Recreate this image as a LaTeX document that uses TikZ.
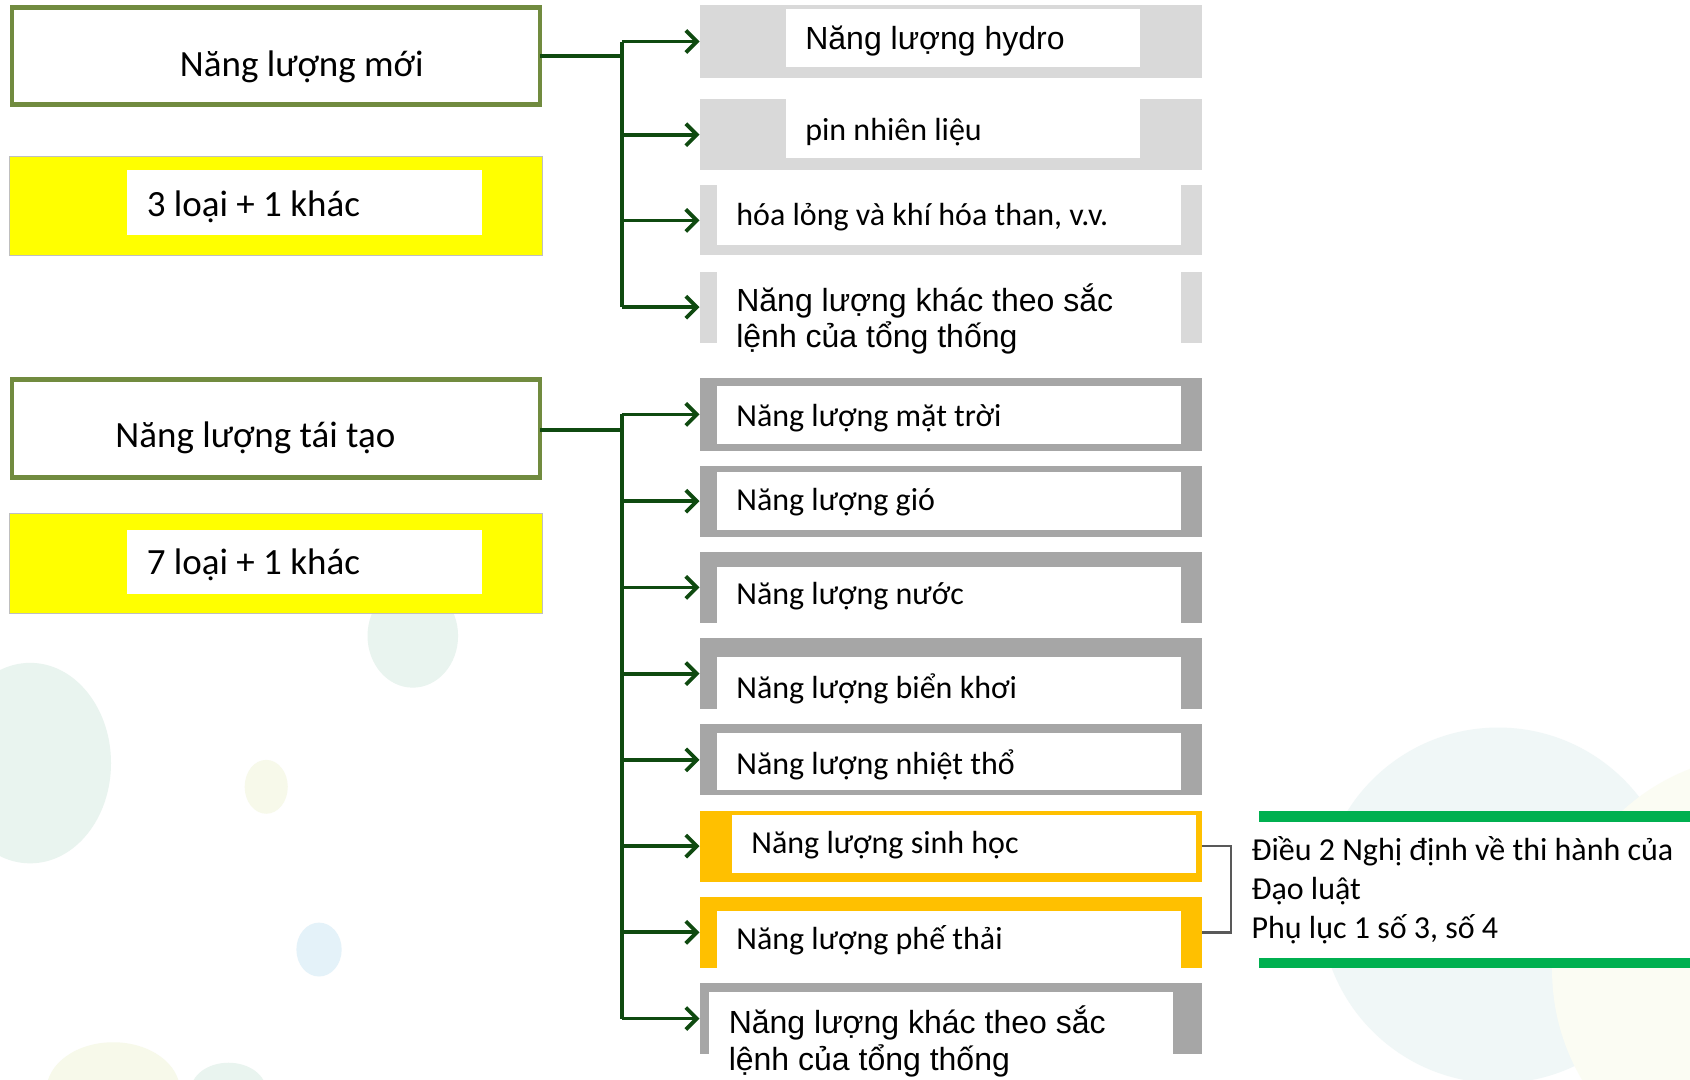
\documentclass[tikz,border=0pt]{standalone}
\usepackage{fontspec}
\setmainfont{Carlito}
\newfontfamily\arialf{Liberation Sans}
\usetikzlibrary{arrows.meta,fit}
\definecolor{boxgreen}{HTML}{718B3F}
\definecolor{arrowgreen}{HTML}{0F4A10}
\definecolor{lgray}{HTML}{D9D9D9}
\definecolor{dgray}{HTML}{A6A6A6}
\definecolor{orangebox}{HTML}{FFC000}
\definecolor{yellowbox}{HTML}{FFFF00}
\definecolor{lawgreen}{HTML}{00B050}
\definecolor{brkgray}{HTML}{595959}
\definecolor{bgA}{HTML}{E9F4EF}
\definecolor{bgB}{HTML}{F7F9EA}
\definecolor{bgC}{HTML}{E4F2F9}
\definecolor{bgD}{HTML}{F0F7F7}
\definecolor{bgE}{HTML}{FBFCF3}
\begin{document}
\begin{tikzpicture}[x=1.0778pt,y=-1.0778pt,
  rbox/.style={inner sep=0pt, outer sep=0pt},
  titlebox/.style={inner sep=0pt, outer sep=0pt, draw=boxgreen, line width=4.3pt, fill=white},
  ybox/.style={inner sep=0pt, outer sep=0pt, draw=black!25, line width=0.8pt, fill=yellowbox},
  cal/.style={font=\fontsize{32}{38.8}\selectfont, inner sep=0pt, anchor=base west},
  calbig/.style={font=\fontsize{37}{44}\selectfont, inner sep=0pt, anchor=base},
  ari/.style={font=\arialf\fontsize{32}{36.6}\selectfont, inner sep=0pt, align=left, anchor=base west},
  conn/.style={draw=arrowgreen, line width=3.8pt},
  arr/.style={conn, -{Straight Barb[length=11pt,width=22pt]}},
  brk/.style={draw=brkgray, line width=2.4pt}
]
\useasboundingbox (0,0) rectangle (1568,1002);
\fill[white] (0,0) rectangle (1568,1002);
% faint background decoration
\fill[bgA] (28,708) ellipse [x radius=75, y radius=93];
\fill[bgA] (383,590) ellipse [x radius=42, y radius=48];
\fill[bgB] (247,730) ellipse [x radius=20, y radius=25];
\fill[bgC] (296,881) ellipse [x radius=21, y radius=25];
\fill[bgB] (105,1012) ellipse [x radius=62, y radius=45];
\fill[bgA] (212,1012) ellipse [x radius=35, y radius=26];
\fill[bgD] (1390,840) circle [radius=165];
\fill[bgE] (1640,900) circle [radius=200];

% left column
\node[titlebox, fit={(11,7)(501,97)}] (nm) {};
\node[calbig] (nmt) at (280,71) {Năng lượng mới};
\node[ybox, fit={(9,145)(503,237)}] (y1) {};
\fill[white] (118,158) rectangle (447,218);
\node[calbig, anchor=base west] (y1t) at (136,201) {3 loại + 1 khác};

\node[titlebox, fit={(11,352)(501,443)}] (tt) {};
\node[calbig] (ttt) at (237,415) {Năng lượng tái tạo};
\node[ybox, fit={(9,476)(503,569)}] (y2) {};
\fill[white] (118,492) rectangle (447,551);
\node[calbig, anchor=base west] (y2t) at (136,533) {7 loại + 1 khác};

% right column: new energy
\node[rbox, fill=lgray, fit={(649,5)(1115,72)}] (r1) {};
\fill[white] (729,8) rectangle (1058,62);
\node[ari] at (747,46) {Năng lượng hydro};
\node[rbox, fill=lgray, fit={(649,92)(1115,158)}] (r2) {};
\fill[white] (729,92) rectangle (1058,147);
\node[cal] at (747,130) {pin nhiên liệu};
\node[rbox, fill=lgray, fit={(649,172)(1115,237)}] (r3) {};
\fill[white] (665,172) rectangle (1096,227);
\node[cal] at (683,209) {hóa lỏng và khí hóa than, v.v.};
\node[rbox, fill=lgray, fit={(649,252)(1115,318)}] (r4) {};
\fill[white] (665,252) rectangle (1096,330);
\node[ari, anchor=west] at (683,296) {Năng lượng khác theo sắc\\lệnh của tổng thống};

% right column: renewable energy
\node[rbox, fill=dgray, fit={(649,351)(1115,418)}] (r5) {};
\fill[white] (665,358) rectangle (1096,412);
\node[cal] at (683,396) {Năng lượng mặt trời};
\node[rbox, fill=dgray, fit={(649,432)(1115,498)}] (r6) {};
\fill[white] (665,438) rectangle (1096,492);
\node[cal] at (683,474) {Năng lượng gió};
\node[rbox, fill=dgray, fit={(649,512)(1115,578)}] (r7) {};
\fill[white] (665,526) rectangle (1096,578);
\node[cal] at (683,561) {Năng lượng nước};
\node[rbox, fill=dgray, fit={(649,592)(1115,658)}] (r8) {};
\fill[white] (665,610) rectangle (1096,658);
\node[cal] at (683,648) {Năng lượng biển khơi};
\node[rbox, fill=dgray, fit={(649,672)(1115,738)}] (r9) {};
\fill[white] (665,680) rectangle (1096,733);
\node[cal] at (683,719) {Năng lượng nhiệt thổ};
\node[rbox, fill=orangebox, fit={(649,752)(1115,818)}] (r10) {};
\fill[white] (679,756) rectangle (1110,810);
\node[cal] at (697,792) {Năng lượng sinh học};
\node[rbox, fill=orangebox, fit={(649,832)(1115,898)}] (r11) {};
\fill[white] (665,845) rectangle (1096,898);
\node[cal] at (683,881) {Năng lượng phế thải};
\node[rbox, fill=dgray, fit={(649,912)(1115,978)}] (r12) {};
\fill[white] (658,920) rectangle (1088,1002);
\node[ari, anchor=west] at (676,966) {Năng lượng khác theo sắc\\lệnh của tổng thống};

% law box
\fill[lawgreen] (1168,752) rectangle (1568,763);
\fill[lawgreen] (1168,888) rectangle (1568,898);
\node[rbox, fill=white, fit={(1142,763)(1568,889)}] (law) {};
\node[font=\fontsize{32}{38.8}\selectfont, inner sep=0pt, align=left, anchor=west] (lawt) at (1161,826)
  {Điều 2 Nghị định về thi hành của\\Đạo luật\\Phụ lục 1 số 3, số 4};
\draw[brk] (r10.east) -- (r10.east -| law.west) -- (r11.east -| law.west) -- (r11.east);

% connectors
\coordinate (jA) at (577,52);
\coordinate (jB) at (577,399);
\draw[conn] (nm.east |- jA) -- (jA);
\draw[conn] (jA |- r1.west) -- (jA |- r4.west);
\foreach \i in {1,2,3,4} { \draw[arr] (jA |- r\i.west) -- (r\i.west); }
\draw[conn] (tt.east |- jB) -- (jB);
\draw[conn] (jB |- r5.west) -- (jB |- r12.west);
\foreach \i in {5,6,7,8,9,10,11,12} { \draw[arr] (jB |- r\i.west) -- (r\i.west); }
\end{tikzpicture}
\end{document}
